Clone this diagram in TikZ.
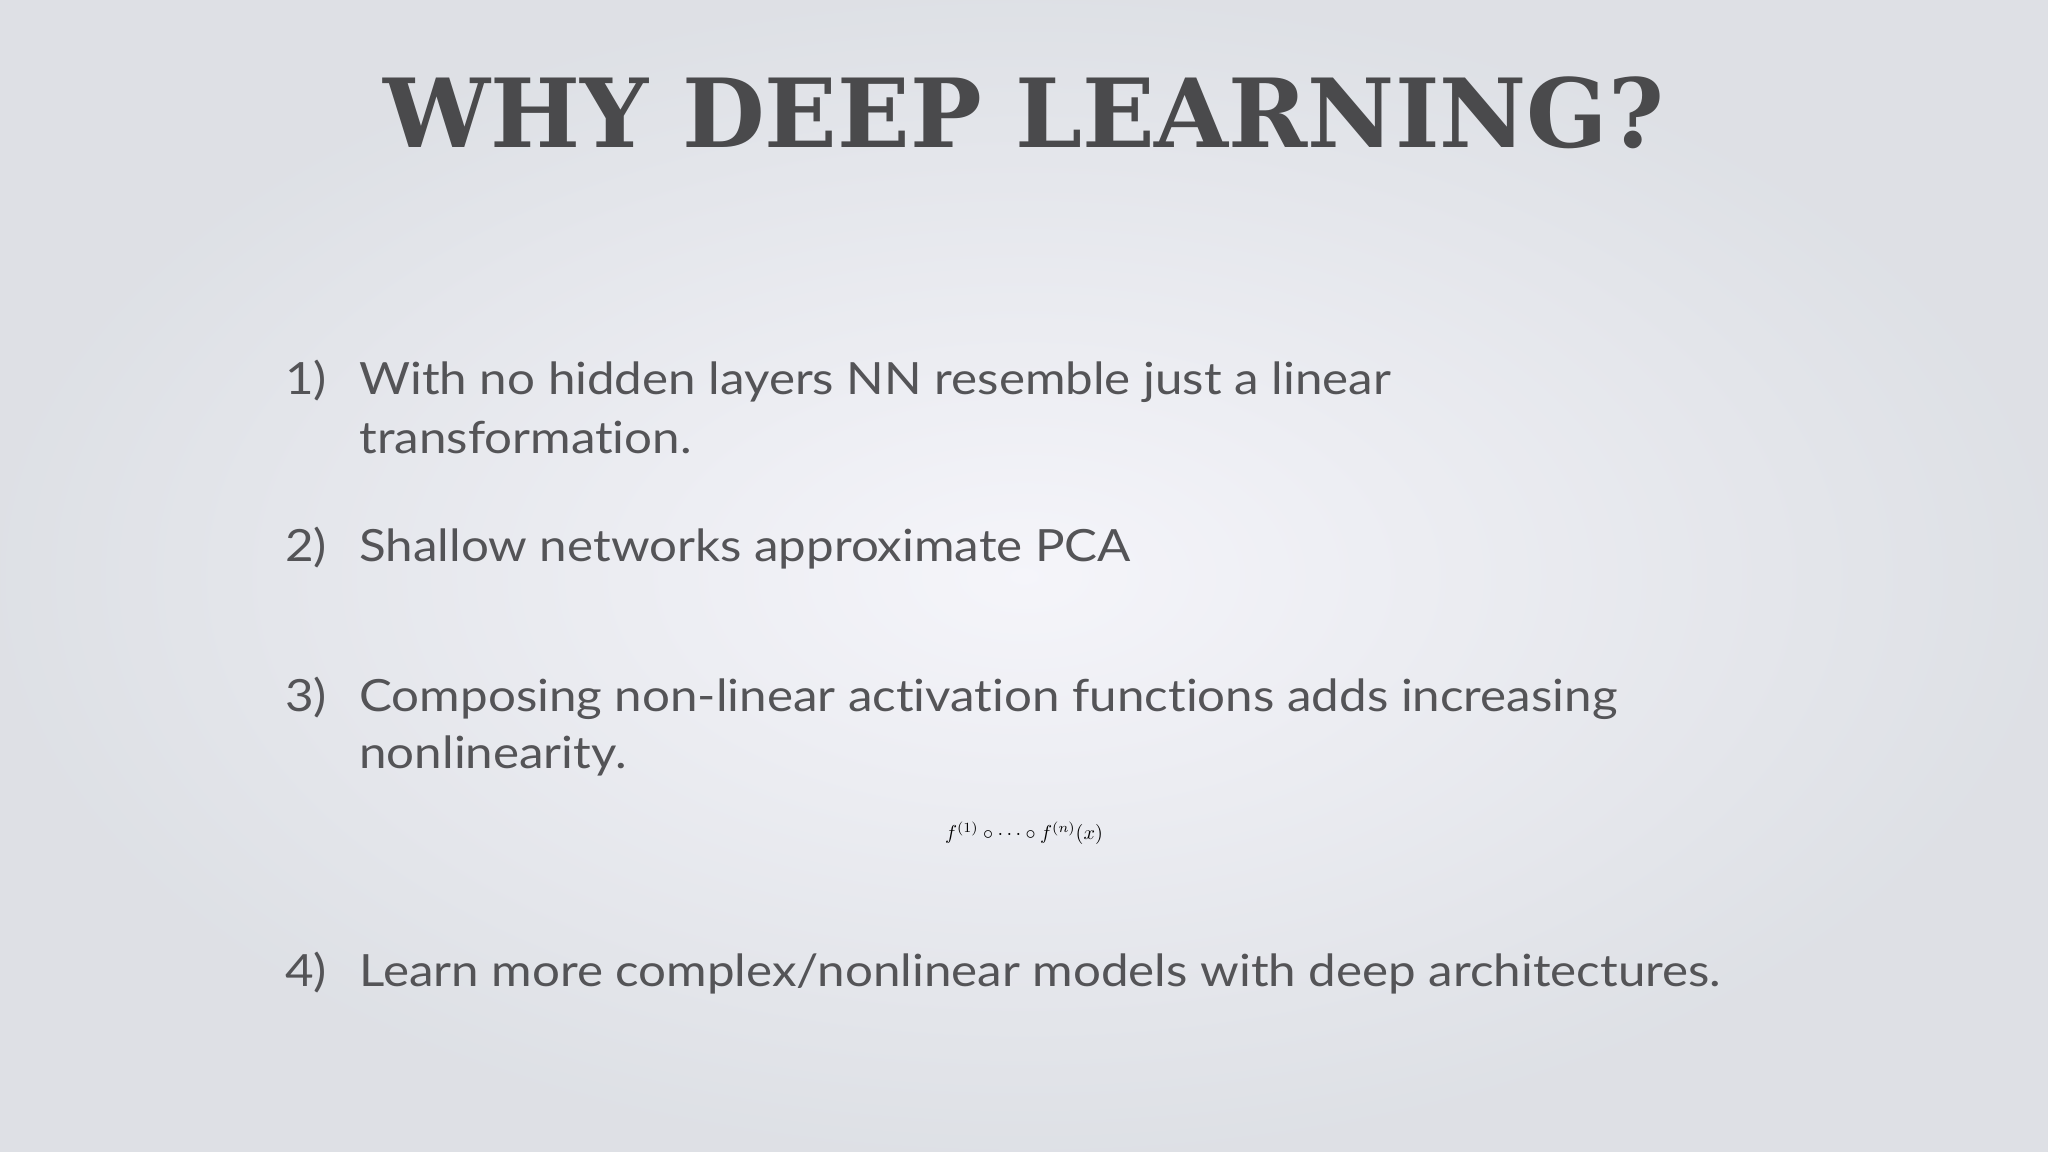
\documentclass[tikz,border=0pt]{standalone}
\usepackage{fontspec}
\setmainfont{Lato}[FakeStretch=1.11, Ligatures=NoCommon]
\newfontfamily\titlefont{DejaVu Serif}
\usepackage{amsmath}
\usepackage{xcolor}
\definecolor{SlideGray}{rgb}{0.33,0.33,0.34}
\definecolor{TitleGray}{rgb}{0.29,0.29,0.30}
\definecolor{BgInner}{rgb}{0.96,0.96,0.98}
\definecolor{BgOuter}{rgb}{0.87,0.88,0.90}

\begin{document}
\begin{tikzpicture}[x=1pt,y=1pt,yscale=-1,xscale=1]
		\tikzset{
			itemnum/.style={anchor=base west, inner sep=0pt, text=SlideGray, font=\fontsize{34}{40}\selectfont},
			itemtext/.style={anchor=base west, inner sep=0pt, text=SlideGray, font=\fontsize{34}{40}\selectfont}
		}

		% Background of the slide
		\shade[inner color=BgInner, outer color=BgOuter] (0,0) rectangle (1568,882);
		\useasboundingbox (0,0) rectangle (1568,882);

		% Title
		\node[anchor=base, inner sep=0pt, text=TitleGray, font=\titlefont\bfseries\fontsize{73}{80}\selectfont] (title) at (784,113) {WHY DEEP LEARNING?};

		% Item 1
		\node[itemnum] (n1) at (218,302) {1)};
		\node[itemtext] (t1a) at (275,302) {With no hidden layers NN resemble just a linear};
		\node[itemtext] (t1b) at (275,347) {transformation.};

		% Item 2
		\node[itemnum] (n2) at (218,430) {2)};
		\node[itemtext] (t2) at (275,430) {Shallow networks approximate PCA};

		% Item 3
		\node[itemnum] (n3) at (218,545) {3)};
		\node[itemtext] (t3a) at (275,545) {Composing non-linear activation functions adds increasing};
		\node[itemtext] (t3b) at (275,588) {nonlinearity.};
		\node[anchor=base, inner sep=0pt] (formula) at (784,643) {\scalebox{1.54}{$f^{(1)}\circ\cdots\circ f^{(n)}(x)$}};

		% Item 4
		\node[itemnum] (n4) at (218,755) {4)};
		\node[itemtext] (t4) at (275,755) {Learn more complex/nonlinear models with deep architectures.};
\end{tikzpicture}
\end{document}
